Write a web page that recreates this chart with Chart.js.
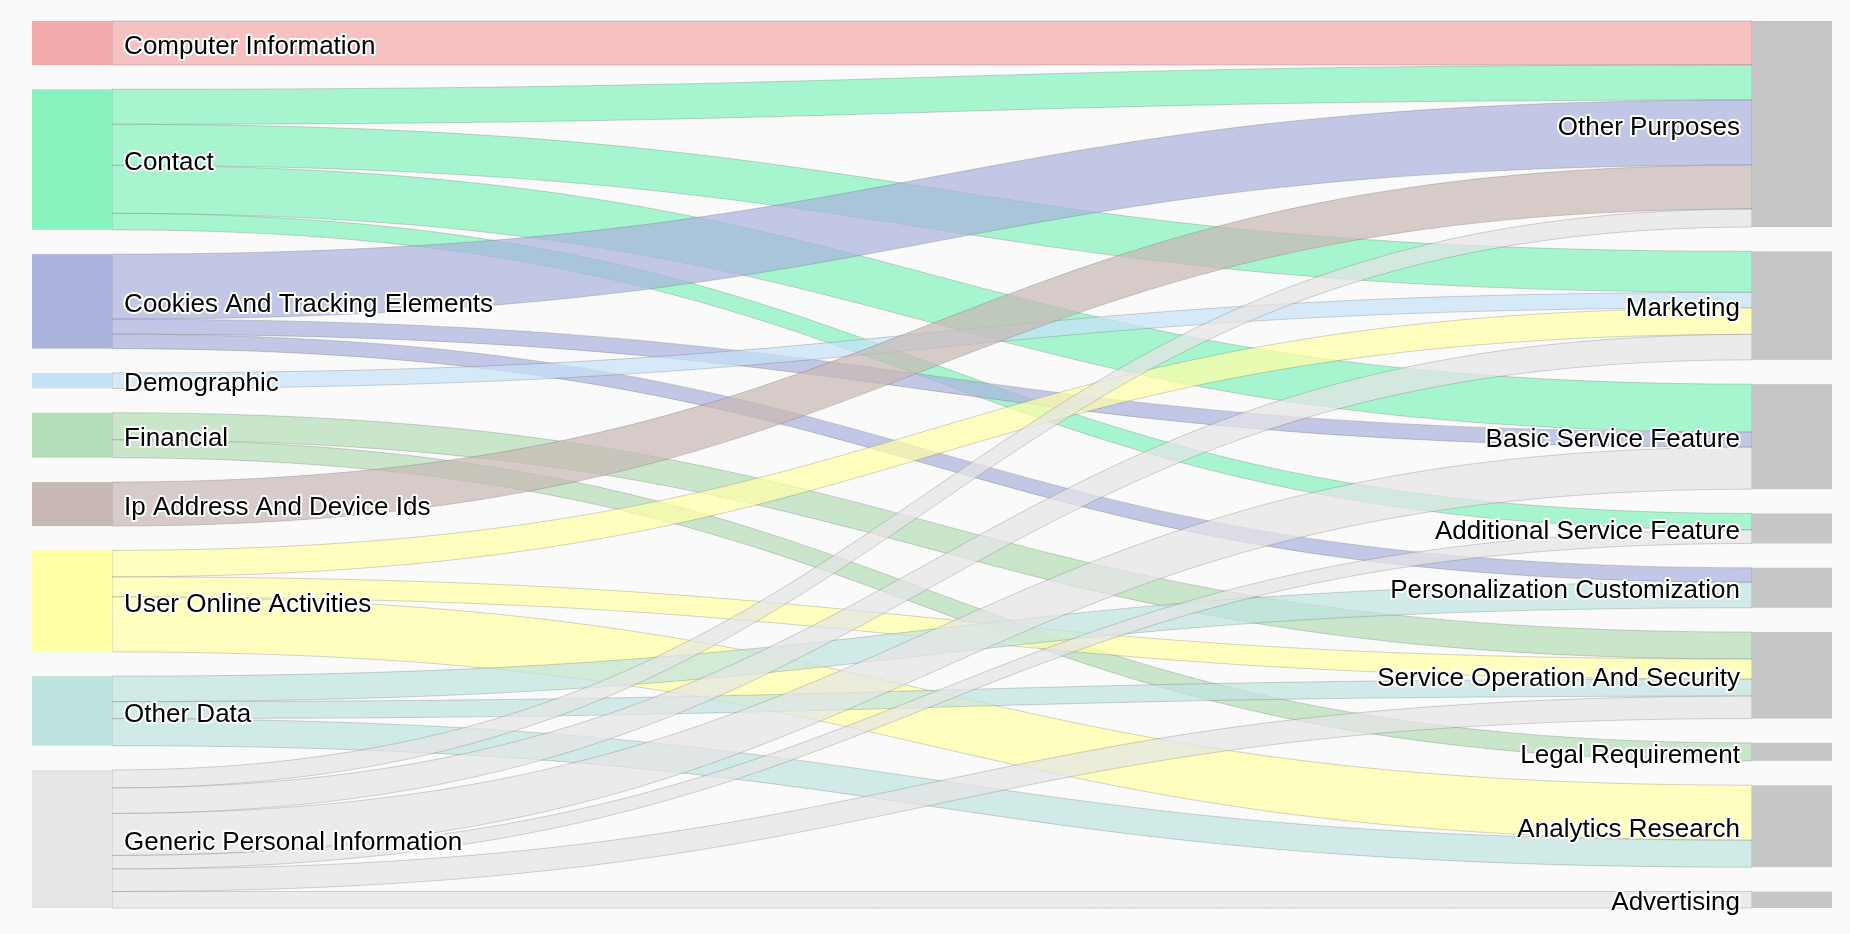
<!DOCTYPE html>
<html>
<head>
<meta charset="utf-8">
<script src="https://cdn.jsdelivr.net/npm/chart.js@4.4.1/dist/chart.umd.min.js"></script>
<style>
  html, body { margin: 0; padding: 0; background: #fafafa; }
  #wrap { width: 1850px; height: 934px; }
</style>
</head>
<body>
<div id="wrap"><canvas id="chart" width="1850" height="934"></canvas></div>
<script>
// data categories (left column, then right column)
const sourceNodes = [
  'Computer Information', 'Contact', 'Cookies And Tracking Elements', 'Demographic',
  'Financial', 'Ip Address And Device Ids', 'User Online Activities', 'Other Data',
  'Generic Personal Information'
];
const targetNodes = [
  'Other Purposes', 'Marketing', 'Basic Service Feature', 'Additional Service Feature',
  'Personalization Customization', 'Service Operation And Security', 'Legal Requirement',
  'Analytics Research', 'Advertising'
];
const sourceColors = [
  '#f2abab', '#87f2be', '#abb3dc', '#c6e2f7', '#b5deb8', '#c7b8b4', '#ffffa6', '#bfe3df', '#e5e5e5'
];
const targetColor = '#c6c6c6';

// flows: source index -> target index, value
const linkSource = [0, 1, 1, 1, 1, 2, 2, 2, 3, 4, 4, 5, 6, 6, 6, 7, 7, 7, 8, 8, 8, 8, 8, 8];
const linkTarget = [0, 0, 1, 2, 3, 0, 2, 4, 1, 5, 6, 0, 1, 5, 7, 4, 5, 7, 0, 1, 2, 3, 5, 8];
const linkValue  = [44, 35, 41, 48, 16.5, 65, 15, 14.5, 15.5, 27, 18, 44, 26.5, 20, 55, 25.5, 17, 27, 18, 25.5, 42, 13.5, 22.5, 16.5];

const nodePadFrac = 0.0274;   // gap between nodes, share of the axis range
const nodeWidthFrac = 0.0445; // node width, share of the x range

const total = linkValue.reduce((a, b) => a + b, 0);
const yMax = total / (1 - nodePadFrac * (sourceNodes.length - 1));

function hexToRgba(hex, a) {
  const n = parseInt(hex.slice(1), 16);
  return 'rgba(' + (n >> 16) + ',' + ((n >> 8) & 255) + ',' + (n & 255) + ',' + a + ')';
}

// stack nodes of one column top to bottom, in value units
function stackColumn(count, valueOf) {
  const pad = nodePadFrac * yMax;
  const out = [];
  let y = 0;
  for (let i = 0; i < count; i++) {
    const v = valueOf(i);
    out.push({ y0: y, y1: y + v });
    y += v + pad;
  }
  return out;
}

const srcTotals = sourceNodes.map((_, i) => linkValue.filter((v, k) => linkSource[k] === i).reduce((a, b) => a + b, 0));
const tgtTotals = targetNodes.map((_, i) => linkValue.filter((v, k) => linkTarget[k] === i).reduce((a, b) => a + b, 0));

const sankeyPlugin = {
  id: 'sankey',
  beforeDraw(chart) {
    const c = chart.ctx;
    c.save();
    c.fillStyle = '#fafafa';
    c.fillRect(0, 0, chart.width, chart.height);
    c.restore();
  },
  afterDatasetsDraw(chart) {
    const c = chart.ctx;
    const xs = chart.scales.x, ys = chart.scales.y;
    const left = stackColumn(sourceNodes.length, i => srcTotals[i]);
    const right = stackColumn(targetNodes.length, i => tgtTotals[i]);

    const xL0 = xs.getPixelForValue(0), xL1 = xs.getPixelForValue(nodeWidthFrac);
    const xR0 = xs.getPixelForValue(1 - nodeWidthFrac), xR1 = xs.getPixelForValue(1);

    // offsets of each link within its source and target node
    const srcOff = left.map(n => n.y0);
    const tgtOff = right.map(n => n.y0);
    const order = linkValue.map((v, k) => k);
    const srcPos = [], tgtPos = [];
    order.slice().sort((a, b) => linkSource[a] - linkSource[b] || linkTarget[a] - linkTarget[b]).forEach(k => {
      const s = linkSource[k];
      srcPos[k] = [srcOff[s], srcOff[s] + linkValue[k]];
      srcOff[s] += linkValue[k];
    });
    order.slice().sort((a, b) => linkTarget[a] - linkTarget[b] || linkSource[a] - linkSource[b]).forEach(k => {
      const t = linkTarget[k];
      tgtPos[k] = [tgtOff[t], tgtOff[t] + linkValue[k]];
      tgtOff[t] += linkValue[k];
    });

    c.save();
    // links
    const xm = (xL1 + xR0) / 2;
    order.forEach(k => {
      const a0 = ys.getPixelForValue(srcPos[k][0]), a1 = ys.getPixelForValue(srcPos[k][1]);
      const b0 = ys.getPixelForValue(tgtPos[k][0]), b1 = ys.getPixelForValue(tgtPos[k][1]);
      c.beginPath();
      c.moveTo(xL1, a0);
      c.bezierCurveTo(xm, a0, xm, b0, xR0, b0);
      c.lineTo(xR0, b1);
      c.bezierCurveTo(xm, b1, xm, a1, xL1, a1);
      c.closePath();
      c.fillStyle = hexToRgba(sourceColors[linkSource[k]], 0.72);
      c.fill();
      c.lineWidth = 0.8;
      c.strokeStyle = 'rgba(80,80,80,0.3)';
      c.stroke();
    });

    // nodes
    left.forEach((n, i) => {
      const y0 = ys.getPixelForValue(n.y0), y1 = ys.getPixelForValue(n.y1);
      c.fillStyle = sourceColors[i];
      c.fillRect(xL0, y0, xL1 - xL0, y1 - y0);
    });
    right.forEach(n => {
      const y0 = ys.getPixelForValue(n.y0), y1 = ys.getPixelForValue(n.y1);
      c.fillStyle = targetColor;
      c.fillRect(xR0, y0, xR1 - xR0, y1 - y0);
    });

    // labels with white halo
    c.font = '26px "Liberation Sans", Arial, Helvetica, sans-serif';
    c.textBaseline = 'middle';
    c.lineJoin = 'round';
    const label = (txt, x, y, align) => {
      c.textAlign = align;
      c.lineWidth = 4;
      c.strokeStyle = '#ffffff';
      c.strokeText(txt, x, y);
      c.fillStyle = '#000000';
      c.fillText(txt, x, y);
    };
    left.forEach((n, i) => {
      label(sourceNodes[i], xL1 + 12, ys.getPixelForValue((n.y0 + n.y1) / 2) + 3.5, 'left');
    });
    right.forEach((n, i) => {
      label(targetNodes[i], xR0 - 12, ys.getPixelForValue((n.y0 + n.y1) / 2) + 3.5, 'right');
    });
    c.restore();
  }
};

new Chart(document.getElementById('chart'), {
  type: 'scatter',
  data: { datasets: [{ data: [] }] },
  options: {
    responsive: false,
    animation: false,
    layout: { padding: { left: 32, right: 18, top: 21, bottom: 26 } },
    plugins: { legend: { display: false }, tooltip: { enabled: false } },
    scales: {
      x: { type: 'linear', min: 0, max: 1, display: false },
      y: { type: 'linear', min: 0, max: yMax, reverse: true, display: false }
    }
  },
  plugins: [sankeyPlugin]
});
</script>
</body>
</html>
